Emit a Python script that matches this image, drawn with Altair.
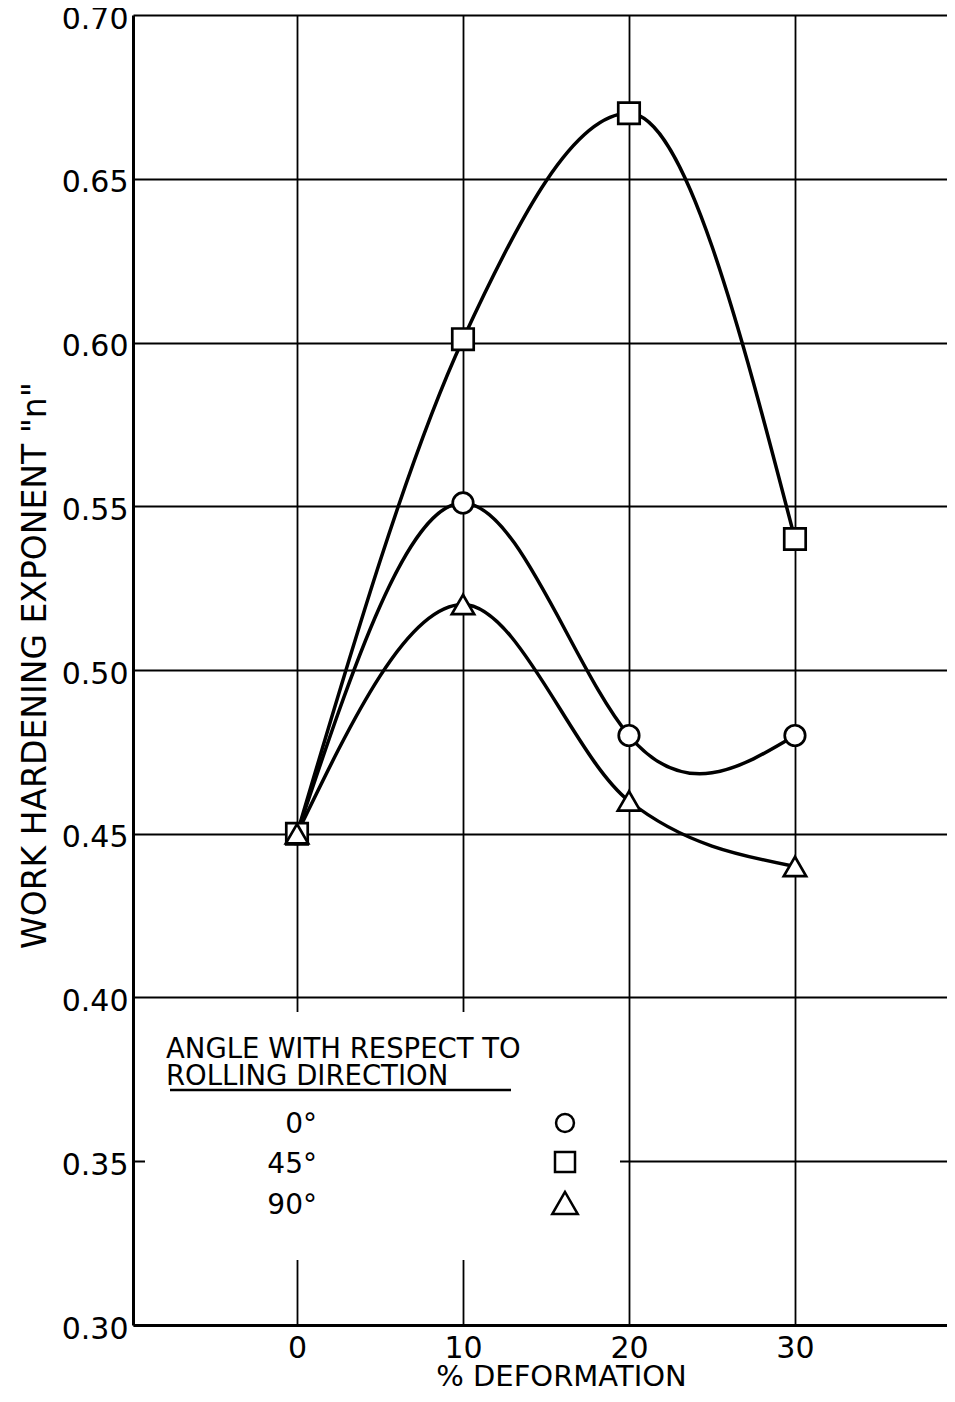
import altair as alt
import pandas as pd

# ---- data ----
deformation = [0, 10, 20, 30]
n_0deg = [0.45, 0.551, 0.48, 0.48]
n_45deg = [0.45, 0.601, 0.67, 0.54]
n_90deg = [0.45, 0.52, 0.46, 0.44]
series_names = ["0°", "45°", "90°"]
shapes = ["circle", "square", "triangle-up"]
y_ticks = [0.30, 0.35, 0.40, 0.45, 0.50, 0.55, 0.60, 0.65, 0.70]
x_ticks = [0, 10, 20, 30]

rows = []
for name, vals in zip(series_names, [n_0deg, n_45deg, n_90deg]):
    for x, y in zip(deformation, vals):
        rows.append({"deformation": x, "n": y, "series": name})
df = pd.DataFrame(rows)

FONT = "DejaVu Sans"
W, H = 814, 1310

x_enc = alt.X(
    "deformation:Q",
    scale=alt.Scale(domain=[-9.88, 39.16], nice=False, zero=False),
    axis=alt.Axis(
        values=x_ticks, format="d", ticks=False, labelPadding=8,
        labelFont=FONT, labelFontSize=30, labelColor="black",
        domainColor="black", domainWidth=3,
        grid=True, gridColor="black", gridWidth=1.8, gridOpacity=1,
        title="% DEFORMATION", titleFont=FONT, titleFontSize=29,
        titleFontWeight="normal", titleColor="black",
        titleX=428, titleY=60, titleAlign="center", titleBaseline="alphabetic",
    ),
)
y_enc = alt.Y(
    "n:Q",
    scale=alt.Scale(domain=[0.30, 0.70], nice=False, zero=False),
    axis=alt.Axis(
        values=y_ticks, format=".2f", ticks=False, labelPadding=5, labelOffset=4,
        labelFont=FONT, labelFontSize=30, labelColor="black",
        domainColor="black", domainWidth=3,
        grid=True, gridColor="black", gridWidth=1.8, gridOpacity=1,
        title='WORK HARDENING EXPONENT "n"', titleFont=FONT, titleFontSize=33,
        titleFontWeight="normal", titleColor="black",
        titleX=-88, titleY=650, titleAlign="center", titleBaseline="alphabetic",
        titleAngle=270,
    ),
)

base = alt.Chart(df)
line_natural = base.mark_line(interpolate="natural", color="black", strokeWidth=3.5).encode(
    x=x_enc, y=y_enc, detail="series:N"
).transform_filter(alt.datum.series == "0°")
line_monotone = base.mark_line(interpolate="monotone", color="black", strokeWidth=3.5).encode(
    x="deformation:Q", y="n:Q", detail="series:N"
).transform_filter(alt.datum.series != "0°")
points = base.mark_point(fill="white", stroke="black", strokeWidth=2.7, opacity=1, fillOpacity=1).encode(
    x="deformation:Q",
    y="n:Q",
    shape=alt.Shape("series:N", scale=alt.Scale(domain=series_names, range=shapes), legend=None),
    size=alt.Size("series:N", scale=alt.Scale(domain=series_names, range=[420, 500, 800]), legend=None),
)

one = pd.DataFrame({"a": [0]})

legend_box = alt.Chart(one).mark_rect(fill="white", stroke=None).encode(
    x=alt.value(12), x2=alt.value(487), y=alt.value(997), y2=alt.value(1245)
)

def txt(s, x, y, align="left", size=27, line_height=None):
    kw = dict(text=s, align=align, baseline="alphabetic", font=FONT, fontSize=size, color="black")
    if line_height is not None:
        kw["lineHeight"] = line_height
    return alt.Chart(one).mark_text(**kw).encode(x=alt.value(x), y=alt.value(y))

legend_title = txt(["ANGLE WITH RESPECT TO", "ROLLING DIRECTION"], 33, 1043, size=27.5, line_height=27)
underline = alt.Chart(one).mark_rule(color="black", strokeWidth=2.5).encode(
    x=alt.value(37), x2=alt.value(378), y=alt.value(1075)
)
lab_layers = []
for name, yy in zip(series_names, [1118, 1158, 1199]):
    lab_layers.append(txt(name, 184, yy, align="right", size=28))
sym_layers = []
for shp, yy, sz in zip(shapes, [1108, 1147, 1188], [320, 400, 650]):
    sym_layers.append(
        alt.Chart(one).mark_point(shape=shp, size=sz, fill="white", stroke="black",
                                  strokeWidth=2.5, opacity=1, fillOpacity=1).encode(
            x=alt.value(432), y=alt.value(yy)
        )
    )

chart = alt.layer(
    line_natural, line_monotone, points, legend_box, legend_title, underline, *lab_layers, *sym_layers
).properties(
    width=W, height=H,
    padding={"left": 125, "top": 7, "right": 0, "bottom": 63},
    autosize=alt.AutoSizeParams(type="none"),
    background="white",
).configure_view(stroke=None)

chart.save("out.html", embed_options={"renderer": "svg", "actions": False})
